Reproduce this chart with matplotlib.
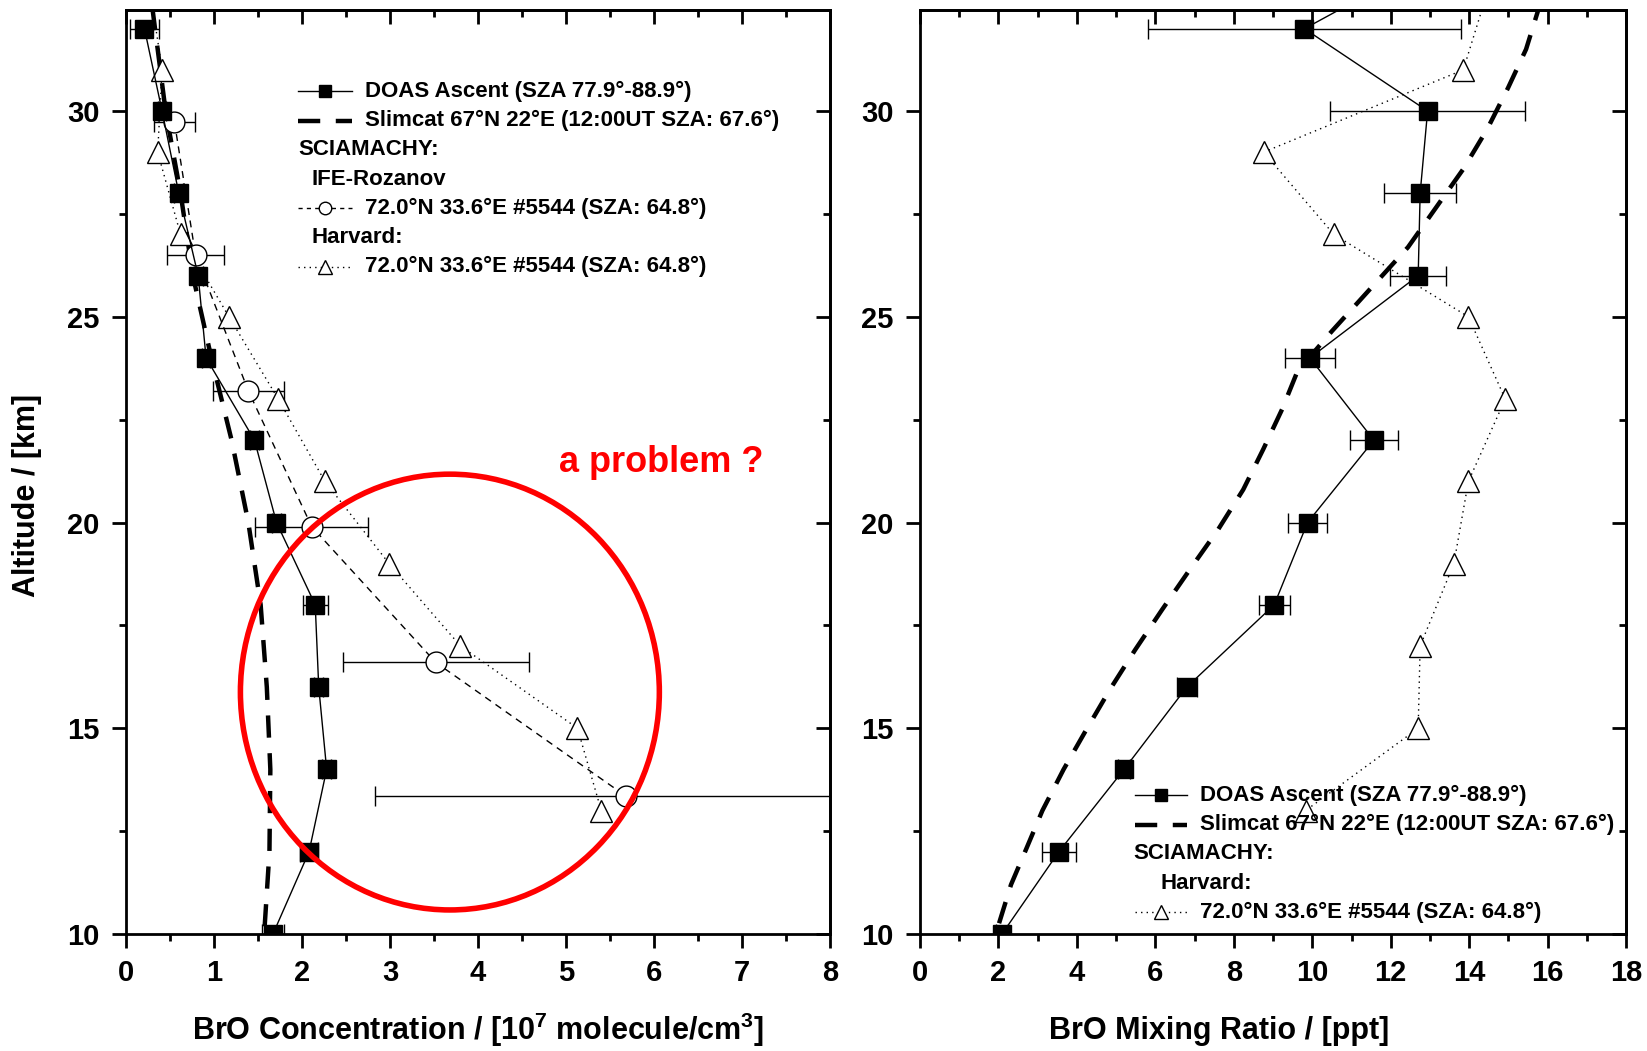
#!/usr/bin/env python3
"""BrO profiles: DOAS balloon ascent vs. Slimcat and SCIAMACHY retrievals."""

import matplotlib
matplotlib.use('Agg')
import matplotlib.pyplot as plt
from matplotlib.patches import Ellipse
from matplotlib.ticker import MultipleLocator

plt.rcParams['font.family'] = ['Liberation Sans', 'DejaVu Sans']
plt.rcParams['font.weight'] = 'bold'
plt.rcParams['mathtext.fontset'] = 'custom'
plt.rcParams['mathtext.rm'] = 'Liberation Sans:bold'
plt.rcParams['mathtext.default'] = 'rm'

# ---- data ----
# DOAS ascent (squares)
alt_doas = [32, 30, 28, 26, 24, 22, 20, 18, 16, 14, 12, 10]
conc_doas = [0.21, 0.41, 0.60, 0.82, 0.91, 1.46, 1.71, 2.15, 2.19, 2.28, 2.08, 1.67]
conc_doas_err = [0.16, 0.05, 0.05, 0.05, 0.05, 0.05, 0.05, 0.14, 0.05, 0.05, 0.10, 0.13]

alt_doas_mix = [33, 32, 30, 28, 26, 24, 22, 20, 18, 16, 14, 12, 10]
mix_doas = [11.73, 9.80, 12.94, 12.75, 12.70, 9.94, 11.57, 9.88, 9.03, 6.80, 5.20, 3.54, 2.09]
mix_doas_err = [0.0, 4.0, 2.48, 0.92, 0.72, 0.64, 0.62, 0.50, 0.39, 0.25, 0.15, 0.44, 0.15]

# Slimcat model (thick dashed)
alt_slim_conc = [32.5, 30, 28, 26, 24, 22, 20, 18, 16, 14, 12, 10]
conc_slim = [0.30, 0.45, 0.62, 0.76, 0.97, 1.20, 1.39, 1.53, 1.60, 1.64, 1.63, 1.57]

alt_slim_mix = [33.0, 32.36, 31.5, 30.56, 29.56, 28.59, 27.62, 26.69, 25.67,
                24.65, 23.67, 22.75, 21.78, 20.8, 19.83, 18.86, 17.88, 16.9,
                15.94, 14.9, 14.0, 13.0, 12.05, 11.2, 10.0]
mix_slim = [15.94, 15.73, 15.45, 14.99, 14.46, 13.85, 13.13, 12.44, 11.47,
            10.50, 9.62, 9.23, 8.75, 8.24, 7.60, 6.88, 6.17, 5.48,
            4.84, 4.20, 3.66, 3.12, 2.70, 2.32, 1.93]

# SCIAMACHY IFE-Rozanov (open circles)
alt_ife = [29.74, 26.5, 23.2, 19.9, 16.6, 13.35]
conc_ife = [0.55, 0.79, 1.39, 2.11, 3.52, 5.68]
conc_ife_err = [0.23, 0.32, 0.40, 0.64, 1.06, 2.85]

# SCIAMACHY Harvard (open triangles)
alt_harv = [33, 31, 29, 27, 25, 23, 21, 19, 17, 15, 13]
conc_harv = [0.27, 0.41, 0.36, 0.62, 1.17, 1.73, 2.26, 2.99, 3.80, 5.13, 5.40]
mix_harv = [14.50, 13.85, 8.76, 10.55, 13.98, 14.92, 13.98, 13.61, 12.75, 12.70, 9.83]

LBL_DOAS = 'DOAS Ascent (SZA 77.9°-88.9°)'
LBL_SLIM = 'Slimcat 67°N 22°E (12:00UT SZA: 67.6°)'
LBL_SCIA = '72.0°N 33.6°E #5544 (SZA: 64.8°)'

SLIM_DASH = (5, 3.5)


def style_axes(ax, xmax, xmajor, xminor):
    ax.set_xlim(0, xmax)
    ax.set_ylim(10, 32.45)
    ax.xaxis.set_major_locator(MultipleLocator(xmajor))
    ax.xaxis.set_minor_locator(MultipleLocator(xminor))
    ax.yaxis.set_major_locator(MultipleLocator(5))
    ax.yaxis.set_minor_locator(MultipleLocator(2.5))
    ax.tick_params(which='both', direction='out', width=2, labelsize=21,
                   top=False, right=False)
    ax.tick_params(which='major', length=10)
    ax.tick_params(which='minor', length=5)
    ax.tick_params(axis='x', pad=8)
    ax.tick_params(axis='y', pad=9)
    for s in ax.spines.values():
        s.set_linewidth(2)

    # mirrored ticks pointing inward on top and right
    top = ax.secondary_xaxis('top')
    top.xaxis.set_major_locator(MultipleLocator(xmajor))
    top.xaxis.set_minor_locator(MultipleLocator(xminor))
    top.tick_params(which='both', direction='in', width=2, labeltop=False)
    top.tick_params(which='major', length=10)
    top.tick_params(which='minor', length=5)
    top.spines['top'].set_linewidth(2)

    right = ax.secondary_yaxis('right')
    right.yaxis.set_major_locator(MultipleLocator(5))
    right.yaxis.set_minor_locator(MultipleLocator(2.5))
    right.tick_params(which='both', direction='in', width=2, labelright=False)
    right.tick_params(which='major', length=10)
    right.tick_params(which='minor', length=5)
    right.spines['right'].set_linewidth(2)


def legend_row(ax, y, x_h0, x_h1, x_txt, text, ls=None, lw=1.0, marker=None,
               mfc='black', ms=8, dashes=None):
    """One hand-drawn legend row in axes coordinates."""
    if ls is not None:
        kw = dict(color='black', lw=lw, transform=ax.transAxes, clip_on=False)
        if dashes is not None:
            kw['dashes'] = dashes
        else:
            kw['ls'] = ls
        ax.plot([x_h0, x_h1], [y, y], **kw)
    if marker is not None:
        ax.plot([(x_h0 + x_h1) / 2], [y], marker=marker, ms=ms, mfc=mfc,
                mec='black', mew=1.0, ls='none', transform=ax.transAxes,
                clip_on=False)
    ax.text(x_txt, y, text, transform=ax.transAxes, fontsize=16,
            fontweight='bold', va='center', ha='left')


fig = plt.figure(figsize=(16.47, 10.51), dpi=100)
ax1 = fig.add_axes([0.0765, 0.1113, 0.4275, 0.879])
ax2 = fig.add_axes([0.5586, 0.1113, 0.4287, 0.879])

# ---------------- left: concentration ----------------
ax1.plot(conc_slim, alt_slim_conc, color='black', lw=3.2, dashes=SLIM_DASH, zorder=2)
ax1.errorbar(conc_ife, alt_ife, xerr=conc_ife_err, color='black', lw=1,
             dashes=(5, 4), marker='o', ms=15, mfc='white', mec='black',
             mew=1.0, ecolor='black', elinewidth=1, capsize=7, capthick=1, zorder=3)
ax1.plot(conc_harv, alt_harv, color='black', lw=1, ls=(0, (1, 3)), marker='^',
         ms=16, mfc='white', mec='black', mew=1.0, zorder=3)
ax1.errorbar(conc_doas, alt_doas, xerr=conc_doas_err, color='black', lw=1,
             marker='s', ms=13, mfc='black', mec='black', ecolor='black',
             elinewidth=1, capsize=7, capthick=1, zorder=4)

# "a problem ?" annotation
ax1.add_patch(Ellipse((3.68, 15.88), 4.76, 10.59, fill=False, ec='#ff0000',
                      lw=4, zorder=5))
ax1.text(6.08, 21.45, 'a problem ?', color='#ff0000', fontsize=26,
         fontweight='bold', ha='center', va='center')

style_axes(ax1, 8, 1, 0.5)
ax1.set_xlabel(r'BrO Concentration / [10$^{7}$ molecule/cm$^{3}$]',
               fontsize=22, fontweight='bold')
ax1.xaxis.set_label_coords(0.5, -0.083)
ax1.set_ylabel('Altitude / [km]', fontsize=22, fontweight='bold')
ax1.yaxis.set_label_coords(-0.12, 0.475)

dy = 0.0316
y0 = 0.912
legend_row(ax1, y0, 0.245, 0.321, 0.339, LBL_DOAS, ls='-', marker='s', ms=8)
legend_row(ax1, y0 - dy, 0.245, 0.321, 0.339, LBL_SLIM, ls='--', lw=3.2,
           dashes=SLIM_DASH)
legend_row(ax1, y0 - 2 * dy, 0.245, 0.321, 0.245, 'SCIAMACHY:')
legend_row(ax1, y0 - 3 * dy, 0.245, 0.321, 0.264, 'IFE-Rozanov')
legend_row(ax1, y0 - 4 * dy, 0.245, 0.321, 0.339, LBL_SCIA, ls='--',
           dashes=(3, 3), marker='o', mfc='white', ms=9)
legend_row(ax1, y0 - 5 * dy, 0.245, 0.321, 0.264, 'Harvard:')
legend_row(ax1, y0 - 6 * dy, 0.245, 0.321, 0.339, LBL_SCIA, ls=':',
           dashes=(1, 3), marker='^', mfc='white', ms=10)

# ---------------- right: mixing ratio ----------------
ax2.plot(mix_slim, alt_slim_mix, color='black', lw=3.2, dashes=SLIM_DASH, zorder=2)
ax2.plot(mix_harv, alt_harv, color='black', lw=1, ls=(0, (1, 3)), marker='^',
         ms=16, mfc='white', mec='black', mew=1.0, zorder=3)
ax2.errorbar(mix_doas, alt_doas_mix, xerr=mix_doas_err, color='black', lw=1,
             marker='s', ms=13, mfc='black', mec='black', ecolor='black',
             elinewidth=1, capsize=7, capthick=1, zorder=4)

style_axes(ax2, 18, 2, 1)
ax2.set_xlabel('BrO Mixing Ratio / [ppt]', fontsize=22, fontweight='bold')
ax2.xaxis.set_label_coords(0.424, -0.089)

y0 = 0.150
legend_row(ax2, y0, 0.304, 0.378, 0.397, LBL_DOAS, ls='-', marker='s', ms=8)
legend_row(ax2, y0 - dy, 0.304, 0.378, 0.397, LBL_SLIM, ls='--', lw=3.2,
           dashes=SLIM_DASH)
legend_row(ax2, y0 - 2 * dy, 0.304, 0.378, 0.302, 'SCIAMACHY:')
legend_row(ax2, y0 - 3 * dy, 0.304, 0.378, 0.340, 'Harvard:')
legend_row(ax2, y0 - 4 * dy, 0.304, 0.378, 0.397, LBL_SCIA, ls=':',
           dashes=(1, 3), marker='^', mfc='white', ms=10)

fig.savefig('out.png', dpi=100)
